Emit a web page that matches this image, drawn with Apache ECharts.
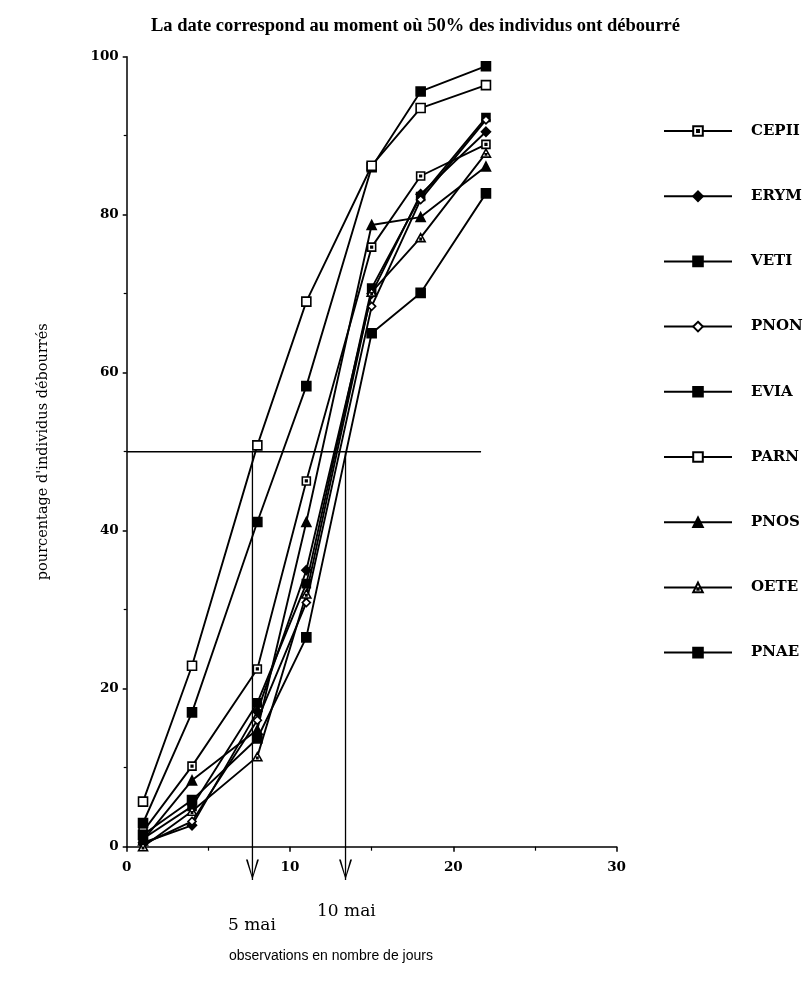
<!DOCTYPE html>
<html>
<head>
<meta charset="utf-8">
<script src="https://cdn.jsdelivr.net/npm/echarts@6/dist/echarts.min.js"></script>
<style>
html,body{margin:0;padding:0;background:#fff;}
#chart{width:809px;height:992px;}
</style>
</head>
<body>
<div id="chart"></div>
<script>
// ---- data ----
const days = [1, 4, 8, 11, 15, 18, 22];
const seriesNames = ['CEPII', 'ERYM', 'VETI', 'PNON', 'EVIA', 'PARN', 'PNOS', 'OETE', 'PNAE'];
const CEPII = [1.9, 10.2, 22.5, 46.3, 75.9, 84.9, 88.9];
const ERYM  = [0.5, 2.7, 17.1, 35.0, 70.0, 82.6, 90.5];
const VETI  = [1.0, 5.1, 18.2, 33.3, 70.7, 82.3, 92.3];
const PNON  = [0.3, 3.2, 16.0, 30.9, 68.4, 81.9, 92.0];
const EVIA  = [3.0, 17.0, 41.1, 58.3, 86.0, 95.6, 98.8];
const PARN  = [5.7, 22.9, 50.8, 69.0, 86.2, 93.5, 96.4];
const PNOS  = [0.8, 8.4, 14.8, 41.1, 78.7, 79.7, 86.1];
const OETE  = [0.0, 4.5, 11.4, 32.0, 70.2, 77.1, 87.8];
const PNAE  = [1.5, 5.9, 13.7, 26.5, 65.0, 70.1, 82.7];
const threshold = 50;          // 50 % débourrement
const thresholdEnd = 21.7;     // end of the horizontal guide
const crossDays = [7.7, 13.4]; // 5 mai, 10 mai
const crossLabels = ['5 mai', '10 mai'];
const arrowHeadY = -2.9;
const arrowTipY = -4.2;
const xTicks = [0, 10, 20, 30];
const yTicks = [0, 20, 40, 60, 80, 100];

const values = {CEPII, ERYM, VETI, PNON, EVIA, PARN, PNOS, OETE, PNAE};

// ---- styles ----
const markers = {
  CEPII: {symbol: 'path://M0,0H10V10H0Z M4,4H6V6H4Z', size: 8, fill: '#fff'},
  ERYM:  {symbol: 'diamond', size: 9, fill: '#000'},
  VETI:  {symbol: 'path://M0,0H10V10H0Z M4,4V6H6V4Z', size: 8, fill: '#000'},
  PNON:  {symbol: 'diamond', size: 8, fill: '#fff'},
  EVIA:  {symbol: 'rect', size: 9, fill: '#000'},
  PARN:  {symbol: 'rect', size: 9, fill: '#fff'},
  PNOS:  {symbol: 'triangle', size: 9, fill: '#000'},
  OETE:  {symbol: 'path://M5,0L10,9H0Z M4.3,5.3H5.7V6.7H4.3Z', size: 9, fill: '#fff'},
  PNAE:  {symbol: 'rect', size: 9, fill: '#000'}
};

const serif = '"DejaVu Serif", "Liberation Serif", serif';

const series = seriesNames.map(name => ({
  name: name,
  type: 'line',
  data: days.map((d, i) => [d, values[name][i]]),
  symbol: markers[name].symbol,
  symbolSize: markers[name].size,
  symbolKeepAspect: true,
  showAllSymbol: true,
  lineStyle: {color: '#000', width: 1.9},
  itemStyle: {color: markers[name].fill, borderColor: '#000', borderWidth: 1.6, opacity: 1},
  emphasis: {disabled: true},
  z: 3
}));

// horizontal 50% guide
series.push({
  name: 'seuil',
  type: 'line',
  data: [[0, threshold], [thresholdEnd, threshold]],
  symbol: 'none',
  lineStyle: {color: '#000', width: 1.6},
  silent: true,
  z: 2
});

// vertical guides with arrows
crossDays.forEach(d => {
  series.push({
    name: 'fleche',
    type: 'line',
    clip: false,
    data: [
      {value: [d, threshold], symbol: 'none'},
      {value: [d, arrowHeadY], symbol: 'path://M0,0L1.4,0L5,8.4L8.6,0L10,0L5,10Z', symbolSize: [13, 20]},
      {value: [d, arrowTipY], symbol: 'none'}
    ],
    symbolKeepAspect: false,
    lineStyle: {color: '#000', width: 1.3},
    itemStyle: {color: '#000'},
    silent: true,
    z: 2
  });
});

const chart = echarts.init(document.getElementById('chart'), null, {renderer: 'canvas'});
chart.setOption({
  backgroundColor: '#fff',
  animation: false,
  title: {
    text: 'La date correspond au moment où 50% des individus ont débourré',
    left: 146, top: 12,
    textStyle: {fontFamily: '"Liberation Serif", serif', fontWeight: 'bold', fontSize: 18.5, color: '#000'}
  },
  grid: {left: 126.7, right: 192.4, top: 56.7, bottom: 145.3, containLabel: false},
  legend: {
    data: seriesNames,
    orient: 'vertical',
    left: 658, top: 116,
    itemWidth: 68, itemHeight: 12,
    itemGap: 45.2,
    textStyle: {fontFamily: serif, fontWeight: 'bold', fontSize: 15, color: '#000', lineHeight: 20, padding: [0, 0, 0, 14]},
    selectedMode: false
  },
  xAxis: {
    type: 'value', min: 0, max: 30, interval: 10,
    axisLine: {lineStyle: {color: '#000', width: 1.5}},
    axisTick: {show: true, length: 5, inside: false, lineStyle: {color: '#000', width: 1.5}},
    minorTick: {show: true, splitNumber: 2, length: 4, lineStyle: {color: '#000', width: 1.2}},
    splitLine: {show: false},
    axisLabel: {fontFamily: serif, fontWeight: 'bold', fontSize: 13.5, color: '#000', margin: 14,
      formatter: v => xTicks.includes(v) ? String(v) : ''}
  },
  yAxis: {
    type: 'value', min: 0, max: 100, interval: 20,
    name: 'pourcentage d\'individus débourrés',
    nameLocation: 'middle', nameRotate: 90, nameGap: 76,
    nameTextStyle: {fontFamily: serif, fontSize: 14.5, color: '#000'},
    axisLine: {lineStyle: {color: '#000', width: 1.5}},
    axisTick: {show: true, length: 4, lineStyle: {color: '#000', width: 1.5}},
    minorTick: {show: true, splitNumber: 2, length: 3, lineStyle: {color: '#000', width: 1.2}},
    splitLine: {show: false},
    axisLabel: {fontFamily: serif, fontWeight: 'bold', fontSize: 13.5, color: '#000', margin: 8,
      formatter: v => yTicks.includes(v) ? String(v) : ''}
  },
  graphic: [
    {type: 'text', left: 228, top: 917, style: {text: crossLabels[0], font: '17px ' + serif, fill: '#000'}},
    {type: 'text', left: 317, top: 903, style: {text: crossLabels[1], font: '17px ' + serif, fill: '#000'}},
    {type: 'text', left: 229, top: 949, style: {text: 'observations en nombre de jours', font: '14px "Liberation Sans", Arial, sans-serif', fill: '#000'}}
  ],
  series: series
});
</script>
</body>
</html>
